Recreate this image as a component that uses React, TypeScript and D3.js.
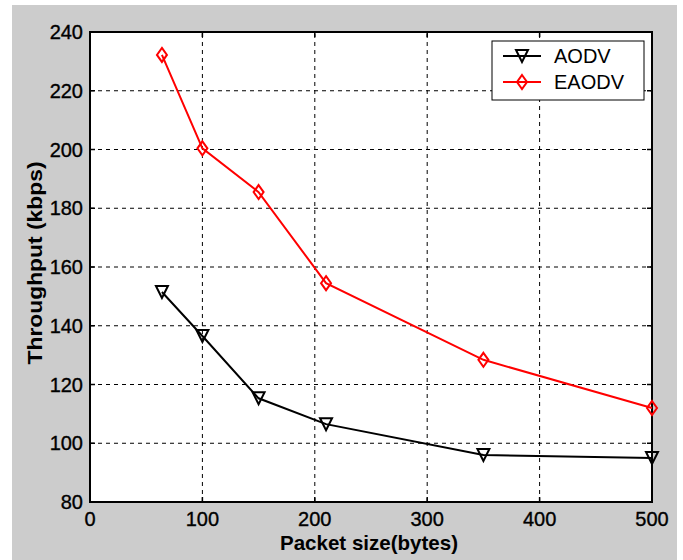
import React, { useEffect, useRef } from 'react';
import * as d3 from 'd3';

const packetSizes = [64, 100, 150, 210, 350, 500];
const aodv = [151.5, 136.5, 115.3, 106.5, 96, 95];
const eaodv = [232.2, 200.4, 185.5, 154.5, 128.4, 112];
const xTicks = [0, 100, 200, 300, 400, 500];
const yTicks = [80, 100, 120, 140, 160, 180, 200, 220, 240];
const seriesNames = ['AODV', 'EAODV'];

const App = () => {
  const ref = useRef<SVGSVGElement>(null);

  useEffect(() => {
    const width = 683;
    const height = 560;
    const margin = { left: 90, right: 31, top: 32, bottom: 58 };
    const font = 'Liberation Sans, Arial, sans-serif';

    const svg = d3.select(ref.current);
    svg.selectAll('*').remove();

    svg.append('rect').attr('x', 12).attr('y', 5).attr('width', 665).attr('height', 555).attr('fill', '#cccccc');

    const x = d3.scaleLinear().domain([0, 500]).range([margin.left, width - margin.right]);
    const y = d3.scaleLinear().domain([80, 240]).range([height - margin.bottom, margin.top]);

    const [x0, x1] = x.range();
    const [y0, y1] = y.range();

    svg.append('rect').attr('x', x0).attr('y', y1).attr('width', x1 - x0).attr('height', y0 - y1).attr('fill', '#fff');

    // grid
    const grid = svg.append('g').attr('stroke', '#000').attr('stroke-width', 1).attr('stroke-dasharray', '4,4');
    grid.selectAll('.gx').data(xTicks.slice(1, -1)).join('line')
      .attr('x1', (d) => x(d)).attr('x2', (d) => x(d)).attr('y1', y0).attr('y2', y1);
    grid.selectAll('.gy').data(yTicks.slice(1, -1)).join('line')
      .attr('x1', x0).attr('x2', x1).attr('y1', (d) => y(d)).attr('y2', (d) => y(d));

    // inward ticks
    const ticks = svg.append('g').attr('stroke', '#000').attr('stroke-width', 1.5);
    xTicks.forEach((t) => {
      ticks.append('line').attr('x1', x(t)).attr('x2', x(t)).attr('y1', y0).attr('y2', y0 - 5);
      ticks.append('line').attr('x1', x(t)).attr('x2', x(t)).attr('y1', y1).attr('y2', y1 + 5);
    });
    yTicks.forEach((t) => {
      ticks.append('line').attr('x1', x0).attr('x2', x0 + 5).attr('y1', y(t)).attr('y2', y(t));
      ticks.append('line').attr('x1', x1).attr('x2', x1 - 5).attr('y1', y(t)).attr('y2', y(t));
    });

    // box
    svg.append('rect').attr('x', x0).attr('y', y1).attr('width', x1 - x0).attr('height', y0 - y1)
      .attr('fill', 'none').attr('stroke', '#000').attr('stroke-width', 2);

    // tick labels
    svg.append('g').selectAll('text').data(xTicks).join('text')
      .attr('x', (d) => x(d)).attr('y', y0 + 24).attr('text-anchor', 'middle')
      .attr('font-family', font).attr('font-size', 20)
      .attr('stroke', '#000').attr('stroke-width', 0.35).text((d) => d);
    svg.append('g').selectAll('text').data(yTicks).join('text')
      .attr('x', x0 - 7).attr('y', (d) => y(d) + 7).attr('text-anchor', 'end')
      .attr('font-family', font).attr('font-size', 20)
      .attr('stroke', '#000').attr('stroke-width', 0.35).text((d) => d);

    // axis labels
    svg.append('text').attr('x', 369).attr('y', 550).attr('text-anchor', 'middle')
      .attr('font-family', font).attr('font-size', 20.5).attr('font-weight', 'bold')
      .attr('textLength', 178).attr('lengthAdjust', 'spacingAndGlyphs').text('Packet size(bytes)');
    svg.append('text').attr('transform', 'translate(42,263) rotate(-90)').attr('text-anchor', 'middle')
      .attr('font-family', font).attr('font-size', 21).attr('font-weight', 'bold')
      .attr('textLength', 203).attr('lengthAdjust', 'spacingAndGlyphs').text('Throughput (kbps)');

    const line = d3.line<number>().x((_, i) => x(packetSizes[i])).y((d) => y(d));
    const tri = 'M-6,-6L6,-6L0,6Z';
    const dia = 'M0,-7L5,0L0,7L-5,0Z';

    const series = [
      { values: aodv, color: '#000', marker: tri },
      { values: eaodv, color: '#ff0000', marker: dia },
    ];

    series.forEach((s) => {
      svg.append('path').attr('d', line(s.values)).attr('fill', 'none')
        .attr('stroke', s.color).attr('stroke-width', 2);
      svg.append('g').selectAll('path').data(s.values).join('path')
        .attr('transform', (d, i) => `translate(${x(packetSizes[i])},${y(d)})`)
        .attr('d', s.marker).attr('fill', 'none').attr('stroke', s.color).attr('stroke-width', 2);
    });

    // legend
    const lg = svg.append('g');
    lg.append('rect').attr('x', 492).attr('y', 41).attr('width', 152).attr('height', 59)
      .attr('fill', '#fff').attr('stroke', '#000').attr('stroke-width', 1);
    series.forEach((s, i) => {
      const ly = 56 + i * 26;
      lg.append('line').attr('x1', 503).attr('x2', 541).attr('y1', ly).attr('y2', ly)
        .attr('stroke', s.color).attr('stroke-width', 2);
      lg.append('path').attr('transform', `translate(522,${ly})`).attr('d', s.marker)
        .attr('fill', 'none').attr('stroke', s.color).attr('stroke-width', 2);
      lg.append('text').attr('x', 554).attr('y', ly + 7).attr('font-family', font).attr('font-size', 20)
        .text(seriesNames[i]);
    });
  }, []);

  return (
    <svg ref={ref} width={683} height={560} style={{ position: 'absolute', left: 0, top: 0, background: '#fff' }} />
  );
};

export default App;
